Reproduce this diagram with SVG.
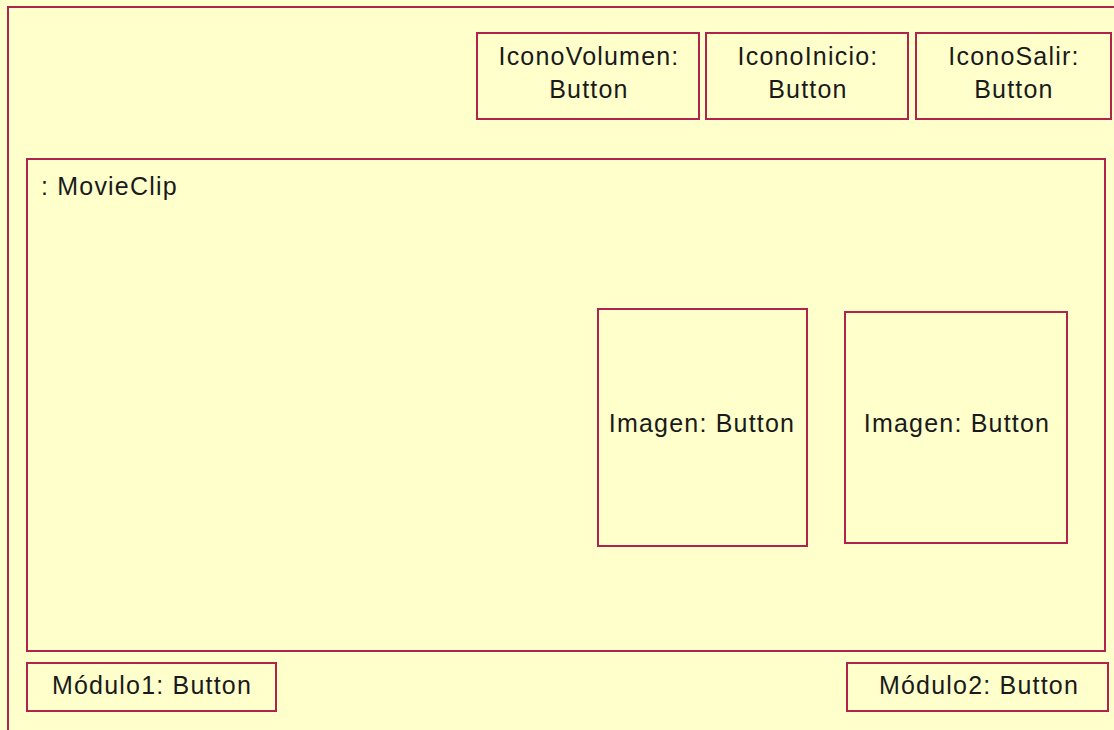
<svg xmlns="http://www.w3.org/2000/svg" width="1114" height="730" viewBox="0 0 1114 730">
<style>
.box{fill:#ffffcc;stroke:#b0234f;stroke-width:2}
.t{font-family:"Liberation Sans",Arial,sans-serif;font-size:25px;letter-spacing:1.2px;fill:#1a1a1a;text-anchor:middle}
.l{text-anchor:start}
</style>
<rect x="0" y="0" width="1114" height="730" fill="#ffffcc"/>
<g id="frame"><rect class="box" x="8" y="7" width="1120" height="740"/></g>
<g id="movieclip">
<rect class="box" x="27" y="159" width="1078" height="492"/>
<text class="t l" x="41" y="195">: MovieClip</text>
</g>
<g id="iconoVolumen">
<rect class="box" x="477" y="33" width="222" height="86"/>
<text class="t" x="589" y="65">IconoVolumen:</text>
<text class="t" x="589" y="98">Button</text>
</g>
<g id="iconoInicio">
<rect class="box" x="706" y="33" width="202" height="86"/>
<text class="t" x="808" y="65">IconoInicio:</text>
<text class="t" x="808" y="98">Button</text>
</g>
<g id="iconoSalir">
<rect class="box" x="916" y="33" width="195" height="86"/>
<text class="t" x="1014" y="65">IconoSalir:</text>
<text class="t" x="1014" y="98">Button</text>
</g>
<g id="imagen1">
<rect class="box" x="598" y="309" width="209" height="237"/>
<text class="t" x="702" y="432">Imagen: Button</text>
</g>
<g id="imagen2">
<rect class="box" x="845" y="312" width="222" height="231"/>
<text class="t" x="957" y="432">Imagen: Button</text>
</g>
<g id="modulo1">
<rect class="box" x="27" y="663" width="249" height="48"/>
<text class="t" x="152" y="694">Módulo1: Button</text>
</g>
<g id="modulo2">
<rect class="box" x="847" y="663" width="261" height="48"/>
<text class="t" x="979" y="694">Módulo2: Button</text>
</g>
<g id="connectors"></g>
</svg>
